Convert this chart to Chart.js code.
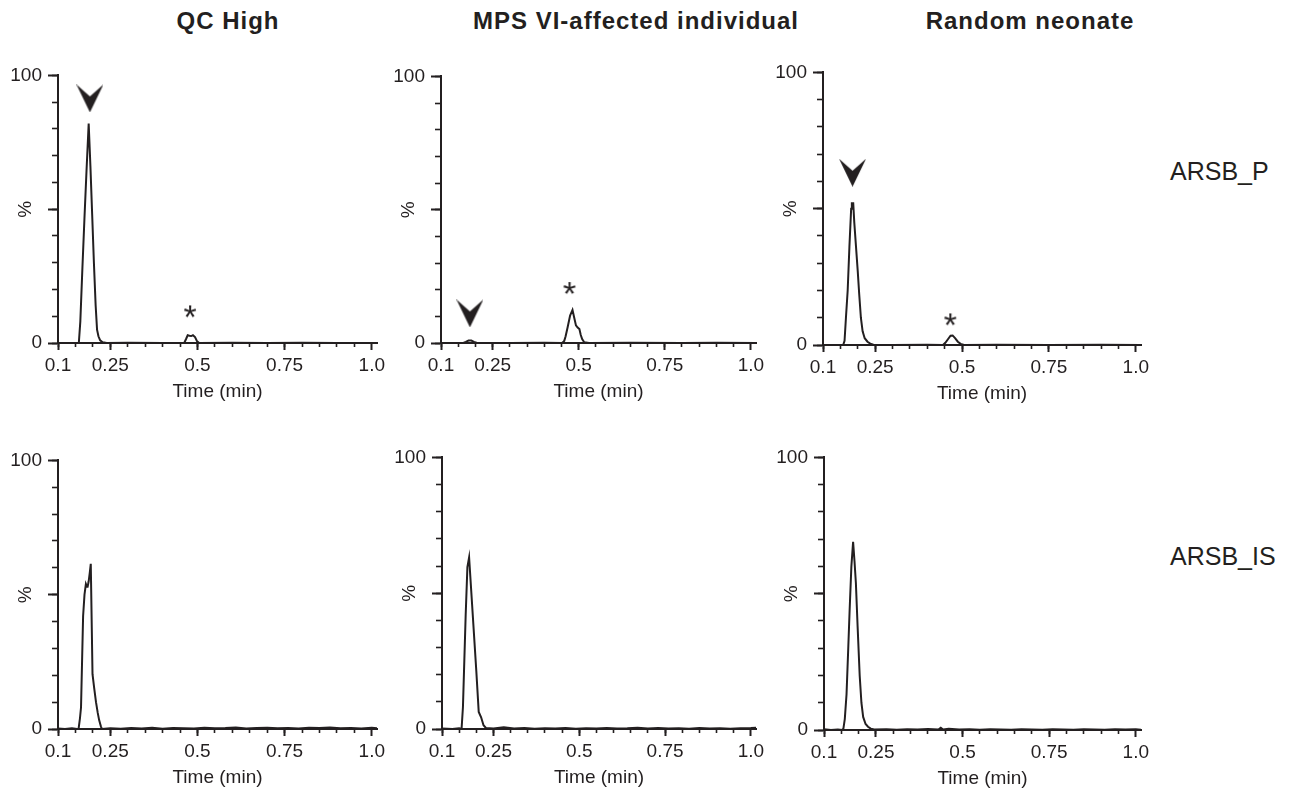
<!DOCTYPE html>
<html>
<head>
<meta charset="utf-8">
<script src="https://cdn.jsdelivr.net/npm/chart.js@4.4.0/dist/chart.umd.min.js"></script>
<style>
  body { margin: 0; background: #fff; font-family: "Liberation Sans", Arial, sans-serif; color: #231f20; }
  #page { position: relative; width: 1296px; height: 798px; overflow: hidden; }
  #page canvas { position: absolute; }
  .colTitle { position: absolute; width: 400px; text-align: center; font-weight: bold; font-size: 24px; line-height: 1; letter-spacing: 1px; }
  .rowLabel { position: absolute; font-size: 25px; line-height: 1; }
</style>
</head>
<body>
<div id="page"></div>
<script>
const colTitles = ["QC High", "MPS VI-affected individual", "Random neonate"];
const rowLabels = ["ARSB_P", "ARSB_IS"];

const xTickValues = [0.1, 0.25, 0.5, 0.75, 1.0];
const xTickText = ["0.1", "0.25", "0.5", "0.75", "1.0"];
const yTickValues = [0, 50, 100];
const yTickText = ["0", "", "100"];

// traces: [time (min), intensity (%)]
const qcHighP = [
  [0.100, 0], [0.158, 0], [0.160, 0.5], [0.164, 8], [0.170, 28], [0.176, 47], [0.182, 65],
  [0.188, 82], [0.193, 66], [0.198, 48], [0.203, 30], [0.208, 14], [0.212, 5], [0.216, 2.5],
  [0.221, 1], [0.228, 0.3], [0.240, 0], [0.300, 0.1], [0.400, 0], [0.462, 0], [0.467, 1.4],
  [0.472, 2.9], [0.477, 2.7], [0.482, 2.6], [0.487, 2.9], [0.493, 2.2], [0.499, 0.6],
  [0.505, 0], [0.600, 0.1], [0.700, 0], [0.800, 0.1], [0.900, 0], [1.015, 0],
];
const mpsP = [
  [0.100, 0], [0.165, 0], [0.172, 0.4], [0.180, 0.9], [0.188, 0.9], [0.196, 0.4], [0.205, 0],
  [0.300, 0], [0.400, 0.1], [0.452, 0], [0.458, 0.8], [0.462, 2.5], [0.468, 6], [0.475, 10.3],
  [0.482, 12.4], [0.487, 9.5], [0.492, 6.6], [0.497, 5.8], [0.502, 5.2], [0.506, 3],
  [0.510, 1.5], [0.516, 0.3], [0.530, 0], [0.650, 0.1], [0.800, 0], [0.900, 0.1], [1.015, 0],
];
const neonateP = [
  [0.100, 0], [0.158, 0], [0.162, 1.5], [0.166, 10], [0.171, 20], [0.176, 36], [0.181, 50],
  [0.183, 52], [0.187, 52], [0.190, 45], [0.195, 36], [0.200, 27], [0.204, 19], [0.209, 10],
  [0.214, 5], [0.220, 2.5], [0.228, 1.2], [0.236, 0.5], [0.245, 0.1], [0.300, 0], [0.400, 0.1],
  [0.445, 0], [0.452, 0.8], [0.460, 2.2], [0.467, 3.4], [0.473, 3.5], [0.480, 2.5],
  [0.488, 1.2], [0.496, 0.4], [0.506, 0], [0.600, 0.1], [0.750, 0], [0.900, 0.1], [1.015, 0],
];
const qcHighIS = [
  [0.100, 0.2], [0.120, 0], [0.140, 0.3], [0.155, 0], [0.159, 0], [0.163, 4], [0.166, 8],
  [0.169, 25], [0.172, 42], [0.176, 50], [0.180, 54], [0.183, 53], [0.185, 53], [0.188, 55],
  [0.191, 58], [0.194, 61.5], [0.199, 20.4], [0.204, 15], [0.209, 10], [0.214, 6], [0.218, 3.3],
  [0.223, 1], [0.226, 0], [0.250, 0.3], [0.280, 0.1], [0.310, 0.4], [0.340, 0.2], [0.370, 0.5],
  [0.400, 0.1], [0.430, 0.4], [0.460, 0.3], [0.490, 0.2], [0.520, 0.5], [0.550, 0.3],
  [0.580, 0.4], [0.610, 0.6], [0.640, 0.2], [0.670, 0.4], [0.700, 0.5], [0.730, 0.3],
  [0.760, 0.4], [0.790, 0.2], [0.820, 0.5], [0.850, 0.4], [0.880, 0.6], [0.910, 0.3],
  [0.940, 0.4], [0.970, 0.2], [1.000, 0.5], [1.015, 0.3],
];
const mpsIS = [
  [0.100, 0.2], [0.130, 0], [0.150, 0.3], [0.157, 0], [0.161, 8], [0.165, 25], [0.169, 42],
  [0.174, 59.6], [0.179, 63.2], [0.200, 21.3], [0.207, 6.3], [0.214, 4.3], [0.221, 1.4],
  [0.228, 0.4], [0.250, 0.2], [0.280, 0.6], [0.310, 0.2], [0.340, 0.4], [0.370, 0.1],
  [0.400, 0.3], [0.430, 0.2], [0.460, 0.4], [0.490, 0.1], [0.520, 0.3], [0.550, 0.2],
  [0.580, 0.4], [0.610, 0.2], [0.640, 0.3], [0.670, 0.5], [0.700, 0.2], [0.730, 0.4],
  [0.760, 0.2], [0.790, 0.3], [0.820, 0.1], [0.850, 0.4], [0.880, 0.2], [0.910, 0.3],
  [0.940, 0.1], [0.970, 0.3], [1.000, 0.4], [1.015, 0.5],
];
const neonateIS = [
  [0.100, 0.3], [0.120, 0], [0.140, 0.2], [0.152, 0], [0.156, 0.5], [0.160, 4], [0.165, 13],
  [0.170, 30], [0.174, 44], [0.179, 60], [0.184, 69], [0.188, 62], [0.192, 54], [0.197, 38],
  [0.203, 20], [0.208, 10], [0.213, 4.8], [0.220, 2.2], [0.227, 1.2], [0.235, 0.5],
  [0.245, 0.2], [0.280, 0.3], [0.310, 0.1], [0.340, 0.3], [0.370, 0.2], [0.400, 0.4],
  [0.430, 0.2], [0.437, 0.8], [0.444, 0.2], [0.460, 0.5], [0.490, 0.2], [0.520, 0.3],
  [0.550, 0.1], [0.580, 0.3], [0.610, 0.2], [0.640, 0.1], [0.670, 0.3], [0.700, 0.2],
  [0.730, 0.1], [0.760, 0.3], [0.790, 0.2], [0.820, 0.1], [0.850, 0.3], [0.880, 0.2],
  [0.910, 0.1], [0.940, 0.3], [0.970, 0.2], [1.000, 0.3], [1.015, 0.1],
];

// annotation marks, [time, %]
const qcHighPArrow = [0.1916, 91.4];
const mpsPArrow = [0.184, 11.1];
const neonatePArrow = [0.185, 63.2];
const qcHighPStar = [0.4786, 11.8];
const mpsPStar = [0.473, 20.6];
const neonatePStar = [0.466, 9.4];

const ink = "#231f20";
const family = "'Liberation Sans', Arial, sans-serif";
const tickFont = { family: family, size: 19 };
const page = document.getElementById("page");

// page layout
const titleCenters = [228, 636, 1030];
const labelTops = [159, 544];
const panels = [
  { trace: qcHighP, arrow: qcHighPArrow, star: qcHighPStar, left: 0, top: 58, w: 393, h: 347 },
  { trace: mpsP, arrow: mpsPArrow, star: mpsPStar, left: 383, top: 59, w: 389, h: 346 },
  { trace: neonateP, arrow: neonatePArrow, star: neonatePStar, left: 765, top: 55, w: 392, h: 352 },
  { trace: qcHighIS, left: 0, top: 443, w: 393, h: 348 },
  { trace: mpsIS, left: 384, top: 440, w: 388, h: 351 },
  { trace: neonateIS, left: 766, top: 440, w: 391, h: 352 },
];

colTitles.forEach((t, i) => {
  const d = document.createElement("div");
  d.className = "colTitle";
  d.textContent = t;
  d.style.left = (titleCenters[i] - 200) + "px";
  d.style.top = "9px";
  page.appendChild(d);
});
rowLabels.forEach((t, i) => {
  const d = document.createElement("div");
  d.className = "rowLabel";
  d.textContent = t;
  d.style.left = "1170px";
  d.style.top = labelTops[i] + "px";
  page.appendChild(d);
});

function makeChevron() {
  const c = document.createElement("canvas");
  c.width = 27;
  c.height = 28;
  const g = c.getContext("2d");
  g.fillStyle = ink;
  g.beginPath();
  g.moveTo(0, 0);
  g.lineTo(13.5, 12);
  g.lineTo(27, 0);
  g.lineTo(13.5, 28);
  g.closePath();
  g.fill();
  return c;
}

function makeStar() {
  const c = document.createElement("canvas");
  c.width = 24;
  c.height = 24;
  const g = c.getContext("2d");
  g.font = "34px " + family;
  g.fillStyle = ink;
  const m = g.measureText("*");
  const w = m.actualBoundingBoxLeft + m.actualBoundingBoxRight;
  const h = m.actualBoundingBoxAscent + m.actualBoundingBoxDescent;
  g.fillText("*", 12 - w / 2 + m.actualBoundingBoxLeft, 12 - h / 2 + m.actualBoundingBoxAscent);
  return c;
}

const chevron = makeChevron();
const star = makeStar();

function markDataset(mark, style) {
  return {
    data: [{ x: mark[0], y: mark[1] }],
    pointStyle: style,
    pointRadius: 10,
    xAxisID: "x",
    yAxisID: "y",
  };
}

function render_panel(p) {
  const canvas = document.createElement("canvas");
  canvas.width = p.w;
  canvas.height = p.h;
  canvas.style.left = p.left + "px";
  canvas.style.top = p.top + "px";
  page.appendChild(canvas);

  const datasets = [
    {
      data: p.trace.map(([x, y]) => ({ x: x, y: y })),
      showLine: true,
      borderColor: ink,
      borderWidth: 2,
      pointRadius: 0,
      tension: 0,
      xAxisID: "x",
      yAxisID: "y",
    },
  ];
  if (p.arrow) datasets.push(markDataset(p.arrow, chevron));
  if (p.star) datasets.push(markDataset(p.star, star));

  new Chart(canvas, {
    type: "scatter",
    data: { datasets: datasets },
    options: {
      responsive: false,
      animation: false,
      events: [],
      layout: { padding: { top: 12, right: 16, left: 0, bottom: 0 } },
      plugins: { legend: { display: false }, tooltip: { enabled: false } },
      scales: {
        x: {
          type: "linear",
          position: "bottom",
          min: 0.1,
          max: 1.015,
          weight: 1,
          afterBuildTicks: (s) => { s.ticks = xTickValues.map((v) => ({ value: v })); },
          afterFit: (s) => { s.height = 62; },
          ticks: {
            callback: (v) => xTickText[xTickValues.indexOf(v)],
            font: tickFont,
            color: ink,
            padding: 4,
            maxRotation: 0,
            autoSkip: false,
          },
          grid: { drawOnChartArea: false, tickLength: 7, tickColor: ink, tickWidth: 2 },
          border: { color: ink, width: 2 },
          title: { display: true, text: "Time (min)", font: tickFont, color: ink, padding: { top: 0, bottom: 2 } },
        },
        xMinor: {
          type: "linear",
          position: "bottom",
          min: 0.1,
          max: 1.015,
          weight: 0,
          afterBuildTicks: (s) => { s.ticks = s.ticks.filter((t) => t.value <= 1.0001); },
          afterFit: (s) => { s.height = 0; },
          ticks: { display: false, stepSize: 0.05 },
          grid: { drawOnChartArea: false, tickLength: 4, tickColor: ink, tickWidth: 1.6 },
          border: { display: false },
        },
        y: {
          type: "linear",
          position: "left",
          min: 0,
          max: 100,
          weight: 1,
          afterBuildTicks: (s) => { s.ticks = yTickValues.map((v) => ({ value: v })); },
          afterFit: (s) => { s.width = 58; },
          ticks: {
            callback: (v) => yTickText[yTickValues.indexOf(v)],
            font: tickFont,
            color: ink,
            padding: 6,
          },
          grid: { drawOnChartArea: false, tickLength: 10, tickColor: ink, tickWidth: 2 },
          border: { color: ink, width: 2 },
          title: { display: true, text: "%", font: tickFont, color: ink, padding: { top: 14, bottom: 0 } },
        },
        yMinor: {
          type: "linear",
          position: "left",
          min: 0,
          max: 100,
          weight: 0,
          afterFit: (s) => { s.width = 0; },
          ticks: { display: false, stepSize: 10 },
          grid: { drawOnChartArea: false, tickLength: 6, tickColor: ink, tickWidth: 1.6 },
          border: { display: false },
        },
      },
    },
  });
}

panels.forEach(render_panel);
</script>
</body>
</html>
